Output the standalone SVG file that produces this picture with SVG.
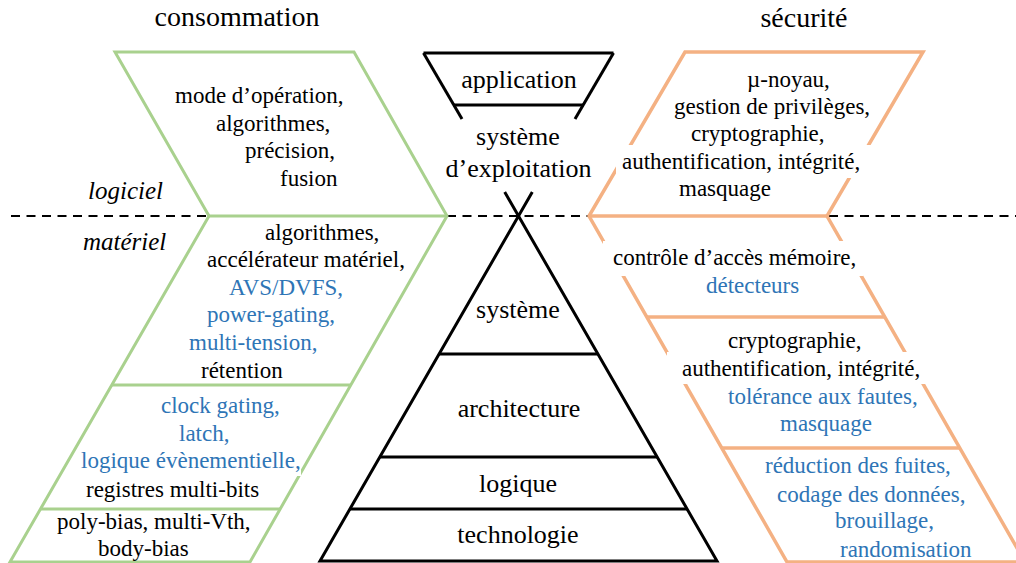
<svg xmlns="http://www.w3.org/2000/svg" width="1016" height="563" viewBox="0 0 1016 563" font-family="'Liberation Serif', 'Times New Roman', Times, 'DejaVu Serif', serif">
<style>
text{font-family:"Liberation Serif","Times New Roman",Times,"DejaVu Serif",serif;fill:#000}
.t{font-size:23px}
.b{fill:#2e75b6}
.c{font-size:26px;text-anchor:middle}
.h{font-size:28px;text-anchor:middle}
.i{font-size:25px;font-style:italic}
.g{fill:none;stroke:#a9d18e;stroke-width:3}
.o{fill:none;stroke:#f4b183;stroke-width:3.5}
.k{fill:none;stroke:#000;stroke-width:3}
.d{fill:none;stroke:#000;stroke-width:2;stroke-dasharray:9 6.5}
.w{fill:#fff}
</style>
<rect width="1016" height="563" fill="#fff"/>
<g id="separateur">
<line class="d" x1="11" y1="216" x2="209" y2="216"/>
<line class="d" x1="447" y1="216" x2="589" y2="216"/>
<line class="d" x1="829" y1="216" x2="1016" y2="216"/>
</g>
<g id="titres">
<text class="h" x="237" y="26">consommation</text>
<text class="h" x="804" y="27">sécurité</text>
<text class="i" x="88" y="199">logiciel</text>
<text class="i" x="83" y="250">matériel</text>
</g>
<g id="consommation">
<polygon class="g" points="115,52 354,52 447,216 250,562 10,562 209,216"/>
<line class="g" x1="209" y1="216" x2="447" y2="216"/>
<line class="g" x1="111.8" y1="385" x2="350.8" y2="385"/>
<line class="g" x1="40.5" y1="509" x2="280.3" y2="509"/>
<rect class="w" x="79" y="452" width="222" height="24"/>
<text class="t" x="175" y="103">mode d’opération,</text>
<text class="t" x="216" y="131">algorithmes,</text>
<text class="t" x="245" y="158">précision,</text>
<text class="t" x="280" y="186">fusion</text>
<text class="t" x="265" y="240">algorithmes,</text>
<text class="t" x="207" y="267">accélérateur matériel,</text>
<text class="t b" x="229" y="294.5">AVS/DVFS,</text>
<text class="t b" x="207" y="322">power-gating,</text>
<text class="t b" x="189" y="350">multi-tension,</text>
<text class="t" x="201" y="377.5">rétention</text>
<text class="t b" x="161" y="413">clock gating,</text>
<text class="t b" x="179" y="441">latch,</text>
<text class="t b" x="81" y="468">logique évènementielle,</text>
<text class="t" x="86" y="497">registres multi-bits</text>
<text class="t" x="57" y="529">poly-bias, multi-Vth,</text>
<text class="t" x="98" y="556">body-bias</text>
</g>
<g id="couches">
<line class="k" x1="423.5" y1="53" x2="613.5" y2="53"/>
<line class="k" x1="423.5" y1="53" x2="462" y2="119"/>
<line class="k" x1="613.5" y1="53" x2="575" y2="119"/>
<line class="k" x1="453.8" y1="105" x2="583.2" y2="105"/>
<path class="k" d="M532.3,192 L320,561 L717,561 L504.7,192"/>
<line class="k" x1="439.2" y1="354" x2="597.8" y2="354"/>
<line class="k" x1="380" y1="457" x2="657" y2="457"/>
<line class="k" x1="350" y1="509" x2="687" y2="509"/>
<text class="c" x="519" y="88">application</text>
<text class="c" x="518" y="145">système</text>
<text class="c" x="518.5" y="177">d’exploitation</text>
<text class="c" x="518" y="318">système</text>
<text class="c" x="519" y="417">architecture</text>
<text class="c" x="518" y="492">logique</text>
<text class="c" x="518" y="543">technologie</text>
</g>
<g id="securite">
<polygon class="o" points="685,52 923,52 827,216 1025,562 787,562 589,216"/>
<line class="o" x1="589" y1="216" x2="827" y2="216"/>
<line class="o" x1="646.8" y1="317" x2="884.8" y2="317"/>
<line class="o" x1="721.7" y1="448" x2="959.7" y2="448"/>
<rect class="w" x="616" y="145" width="256" height="33"/>
<rect class="w" x="603" y="241" width="260" height="35"/>
<rect class="w" x="667" y="352" width="259" height="32"/>
<text class="t" x="747" y="87">µ-noyau,</text>
<text class="t" x="674" y="114">gestion de privilèges,</text>
<text class="t" x="691" y="141">cryptographie,</text>
<text class="t" x="622" y="169">authentification, intégrité,</text>
<text class="t" x="679" y="196">masquage</text>
<text class="t" x="613" y="265">contrôle d’accès mémoire,</text>
<text class="t b" x="706" y="293">détecteurs</text>
<text class="t" x="728" y="348">cryptographie,</text>
<text class="t" x="682" y="376">authentification, intégrité,</text>
<text class="t b" x="728" y="404">tolérance aux fautes,</text>
<text class="t b" x="780" y="431">masquage</text>
<text class="t b" x="765" y="473">réduction des fuites,</text>
<text class="t b" x="777" y="502">codage des données,</text>
<text class="t b" x="835" y="528">brouillage,</text>
<text class="t b" x="840" y="557">randomisation</text>
</g>
</svg>
